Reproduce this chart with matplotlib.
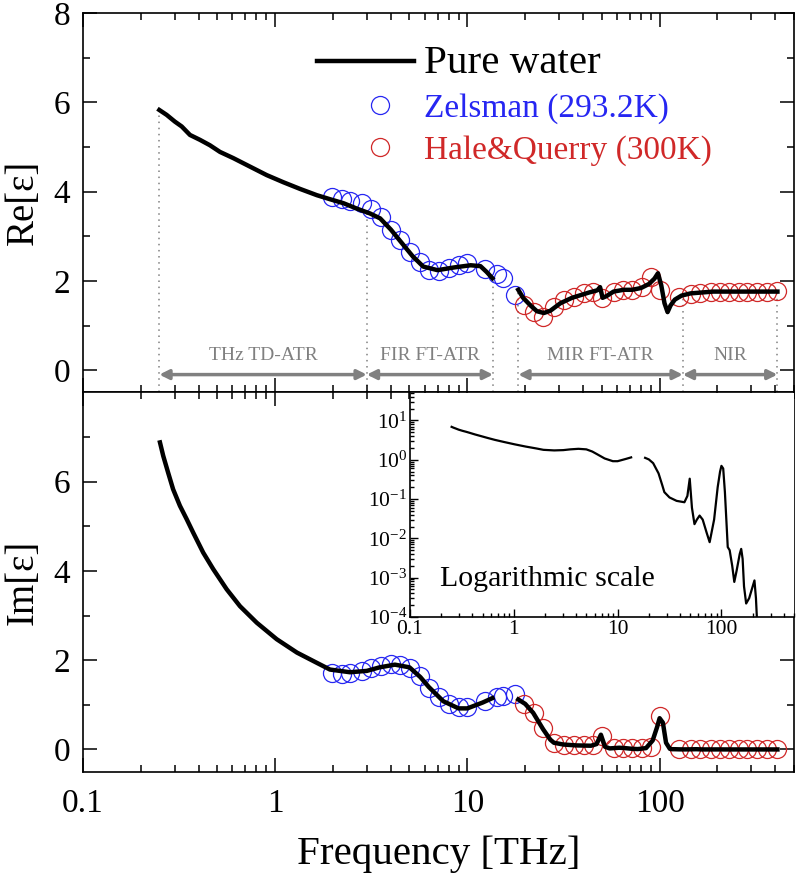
import numpy as np
import matplotlib.pyplot as plt
from matplotlib.legend_handler import HandlerLine2D
from matplotlib.ticker import LogLocator, NullFormatter, FixedLocator, FuncFormatter

plt.rcParams["font.family"] = ["Liberation Serif", "DejaVu Serif"]
plt.rcParams["mathtext.fontset"] = "stix"
plt.rcParams["xtick.direction"] = "in"
plt.rcParams["ytick.direction"] = "in"
plt.rcParams["axes.linewidth"] = 1.2

BLUE = "#2626f2"
RED = "#d02828"
GRAY = "#808080"

# pure water, real part (two measured segments)
re_freq1 = [0.25, 0.273, 0.301, 0.327, 0.361, 0.407, 0.458, 0.517, 0.607, 0.741, 0.905,
            1.105, 1.35, 1.65, 1.93, 2.27, 2.66, 3.12, 3.52, 4.0, 4.5, 5.2, 5.9, 7.0,
            8.5, 10.4, 11.7, 12.6, 13.5]
re_val1 = [5.83, 5.72, 5.57, 5.46, 5.27, 5.16, 5.04, 4.89, 4.75, 4.56, 4.37,
           4.21, 4.06, 3.92, 3.83, 3.74, 3.62, 3.51, 3.4, 3.15, 2.88, 2.55, 2.32, 2.24,
           2.3, 2.35, 2.33, 2.2, 2.06]
re_freq2 = [18.4, 19.5, 21.3, 23, 25, 27, 30.5, 35, 38.8, 43, 47.5, 49, 50.5, 53, 57.6,
            65, 72, 80, 88, 94, 98, 102, 106, 110, 114, 120, 130, 145, 190, 410]
re_val2 = [1.8, 1.62, 1.45, 1.32, 1.28, 1.33, 1.5, 1.62, 1.68, 1.74, 1.79, 1.86, 1.62, 1.66, 1.76,
           1.8, 1.8, 1.84, 1.93, 2.05, 2.17, 1.9, 1.5, 1.3, 1.45, 1.58, 1.67, 1.72, 1.76, 1.76]

# pure water, imaginary part
im_freq1 = [0.252, 0.262, 0.278, 0.295, 0.32, 0.347, 0.375, 0.423, 0.477, 0.56, 0.657,
            0.803, 1.02, 1.3, 1.65, 1.93, 2.45, 3.0, 3.5, 4.2, 5.0, 5.7, 6.3, 7.5, 9.0,
            10.0, 12.0, 13.5]
im_val1 = [6.88, 6.58, 6.2, 5.83, 5.46, 5.16, 4.86, 4.41, 4.04, 3.59, 3.21,
           2.84, 2.47, 2.17, 1.94, 1.79, 1.73, 1.76, 1.84, 1.9, 1.84, 1.62, 1.4, 1.08, 0.92,
           0.92, 1.05, 1.15]
im_freq2 = [18.4, 20, 22, 24.8, 27, 28.2, 31.6, 37, 44, 47, 49.5, 52, 55, 58, 61.6, 66, 72,
            77, 85, 92, 97, 100, 104, 108, 113, 115, 120, 127, 133, 140, 150, 155, 160,
            165, 173, 185, 200, 208, 215, 222, 240, 300, 410]
im_val2 = [1.12, 1.02, 0.82, 0.45, 0.22, 0.15, 0.11, 0.09, 0.083, 0.12, 0.33, 0.06, 0.023,
           0.03, 0.038, 0.03, 0.014, 0.008, 0.03, 0.2, 0.5, 0.7, 0.6, 0.15, 0.015, 0.006,
           0.005, 0.002, 0.00078, 0.0015, 0.004, 0.0054, 0.003, 0.0006, 0.00022, 0.0003,
           0.0006, 0.00085, 0.0003, 0.00005, 0.00001, 1e-6, 1e-6]

# Zelsman (293.2K)
zel_freq = [1.98, 2.24, 2.45, 2.82, 3.17, 3.55, 4.0, 4.45, 5.05, 5.69, 6.29, 7.1, 8.0,
            9.0, 10.0, 12.4, 14.3, 15.4, 17.8]
zel_re = [3.88, 3.83, 3.8, 3.74, 3.62, 3.44, 3.14, 2.91, 2.65, 2.43, 2.24, 2.22, 2.28,
          2.35, 2.39, 2.26, 2.15, 2.06, 1.68]
zel_im = [1.72, 1.70, 1.72, 1.76, 1.82, 1.86, 1.92, 1.9, 1.83, 1.64, 1.38, 1.18, 1.02,
          0.95, 0.95, 1.08, 1.18, 1.2, 1.25]

# Hale & Querry (300K)
hq_freq = [19.7, 22.2, 24.8, 28.2, 31.9, 35.8, 40.3, 45.3, 50.1, 57.6, 64.8, 72, 81.4,
           90, 100, 126, 145, 163, 184, 207, 229, 259, 286, 322, 363, 410]
hq_re = [1.46, 1.31, 1.2, 1.42, 1.57, 1.64, 1.72, 1.76, 1.61, 1.76, 1.79, 1.79, 1.87,
         2.09, 1.79, 1.64, 1.7, 1.72, 1.76, 1.76, 1.76, 1.76, 1.76, 1.76, 1.76, 1.78]
hq_im = [1.01, 0.82, 0.48, 0.15, 0.11, 0.11, 0.11, 0.11, 0.3, 0.03, 0.03, 0.03, 0.03,
         0.05, 0.75, 0.0, 0.0, 0.0, 0.0, 0.0, 0.0, 0.0, 0.0, 0.0, 0.0, 0.0]

# measurement ranges
regions = [("THz TD-ATR", 0.25, 3.0), ("FIR FT-ATR", 3.0, 13.6),
           ("MIR FT-ATR", 18.4, 132), ("NIR", 132, 410)]


class ShiftedMarker(HandlerLine2D):
    # legend circles sit a bit right of the line handle's centre
    def create_artists(self, legend, orig_handle, xdescent, ydescent, width, height,
                       fontsize, trans):
        artists = super().create_artists(legend, orig_handle, xdescent, ydescent, width,
                                         height, fontsize, trans)
        for a in artists:
            a.set_xdata(np.asarray(a.get_xdata()) + 0.15 * width)
        return artists


fig, (ax_re, ax_im) = plt.subplots(2, 1, sharex=True, figsize=(7.96, 8.75), dpi=100)
fig.subplots_adjust(left=0.104, right=0.9975, top=0.985, bottom=0.118, hspace=0)

circ = dict(ls="none", marker="o", ms=13, mfc="none", mew=0.9, zorder=2)
zel_line, = ax_re.plot(zel_freq, zel_re, color=BLUE, label="Zelsman (293.2K)", **circ)
hq_line, = ax_re.plot(hq_freq, hq_re, color=RED, label="Hale&Querry (300K)", **circ)
water_line, = ax_re.plot(re_freq1, re_val1, color="black", lw=3.2, zorder=3, label="Pure water")
ax_re.plot(re_freq2, re_val2, color="black", lw=3.2, zorder=3)

ax_im.plot(zel_freq, zel_im, color=BLUE, **circ)
ax_im.plot(hq_freq, hq_im, color=RED, **circ)
ax_im.plot(im_freq1, im_val1, color="black", lw=3.2, zorder=3)
ax_im.plot(im_freq2, im_val2, color="black", lw=3.2, zorder=3)

# dotted boundaries + arrows
all_f = np.log10(re_freq1 + re_freq2)
all_v = re_val1 + re_val2
edges = sorted({e for _, a, b in regions for e in (a, b)})
for e in edges:
    top = np.interp(np.log10(e), all_f, all_v)
    ax_re.plot([e, e], [-0.5, top], ls=(0, (1, 3)), color=GRAY, lw=1.1, zorder=1)
for name, a, b in regions:
    ax_re.annotate("", xy=(b, -0.1), xytext=(a, -0.1),
                   arrowprops=dict(arrowstyle="<|-|>", color=GRAY, lw=2.5,
                                   mutation_scale=14, shrinkA=0, shrinkB=0))
    ax_re.text(np.sqrt(a * b), 0.33, name, color=GRAY, fontsize=14, ha="center", va="center")

for ax in (ax_re, ax_im):
    ax.set_xscale("log")
    ax.set_xlim(0.1, 500)
    ax.set_ylim(-0.5, 8)
    ax.tick_params(which="both", top=True, right=True, width=1.1, labelsize=24)
    ax.tick_params(which="major", length=10)
    ax.tick_params(which="minor", length=5)
    ax.tick_params(axis="y", pad=9)
    ax.tick_params(axis="x", pad=12)
    ax.yaxis.set_major_locator(FixedLocator([0, 2, 4, 6, 8]))
    ax.yaxis.set_minor_locator(FixedLocator([1, 3, 5, 7]))

ax_im.yaxis.set_major_locator(FixedLocator([0, 2, 4, 6]))
ax_im.xaxis.set_major_formatter(FuncFormatter(lambda v, p: f"{v:g}"))
ax_re.set_ylabel("Re[ε]", fontsize=28)
ax_im.set_ylabel("Im[ε]", fontsize=28)
ax_im.set_xlabel("Frequency [THz]", fontsize=29.5, labelpad=12)
ax_re.yaxis.set_label_coords(-0.058, 0.5)
ax_im.yaxis.set_label_coords(-0.058, 0.5)

leg = ax_re.legend([water_line, zel_line, hq_line],
                   ["Pure water", "Zelsman (293.2K)", "Hale&Querry (300K)"],
                   loc="upper left", bbox_to_anchor=(0.33, 0.917), frameon=False,
                   fontsize=24, handlelength=2.9, handletextpad=0.3, labelspacing=0.34,
                   borderpad=0, borderaxespad=0,
                   handler_map={zel_line: ShiftedMarker(), hq_line: ShiftedMarker()})
texts = leg.get_texts()
texts[0].set_fontsize(29.5)
texts[1].set_color(BLUE)
texts[2].set_color(RED)

# log-scale inset of Im part
ax_in = fig.add_axes([0.515, 0.2949, 0.9975 - 0.515, 0.5509 - 0.2949])
ax_in.plot(im_freq1, im_val1, color="black", lw=1.6)
ax_in.plot(im_freq2, im_val2, color="black", lw=1.6)
ax_in.set_xscale("log")
ax_in.set_yscale("log")
ax_in.set_xlim(0.1, 500)
ax_in.set_ylim(1e-4, 10 ** 1.7)
ax_in.spines["top"].set_visible(False)
ax_in.spines["right"].set_visible(False)
ax_in.yaxis.set_major_locator(LogLocator(base=10, numticks=10))
ax_in.yaxis.set_minor_locator(LogLocator(base=10, subs=np.arange(2, 10), numticks=20))
ax_in.yaxis.set_minor_formatter(NullFormatter())
ax_in.xaxis.set_major_formatter(FuncFormatter(lambda v, p: f"{v:g}"))
ax_in.tick_params(which="both", labelsize=15.5, width=1)
ax_in.tick_params(which="major", length=6, pad=2)
ax_in.tick_params(which="minor", length=3)
ax_in.text(0.078, 0.17, "Logarithmic scale", transform=ax_in.transAxes, fontsize=21.5,
           va="center")

fig.savefig("out.png", dpi=100)
